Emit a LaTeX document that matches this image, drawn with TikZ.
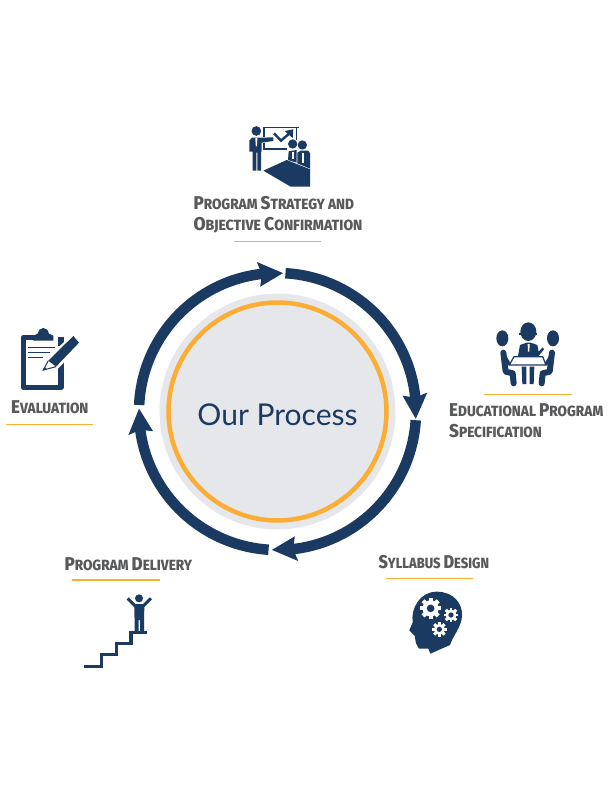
\documentclass[tikz,border=0pt]{standalone}
\usepackage{fontspec}
\newfontfamily\labfont[FakeStretch=0.92,BoldFont={Fira Sans ExtraBold}]{Fira Sans}
\newfontfamily\labwide[FakeStretch=0.95,BoldFont={Fira Sans ExtraBold}]{Fira Sans}
\newfontfamily\labtight[FakeStretch=0.875,BoldFont={Fira Sans ExtraBold}]{Fira Sans}
\newfontfamily\corefont{Lato}
\definecolor{navy}{HTML}{1B3A61}
\definecolor{coregray}{HTML}{E6E7EB}
\definecolor{gold}{HTML}{FBAE33}
\definecolor{labgray}{HTML}{58595B}
\newcommand{\capsm}[2]{{\fontsize{18.5}{18}\selectfont #1}{\fontsize{14.8}{18}\selectfont #2}}
\newcommand{\ringarrow}[2]{%
  \pgfmathsetmacro{\shaftend}{#2-8.5}
  \pgfmathsetmacro{\wingang}{#2-10.2}
  \pgfmathsetmacro{\notchang}{#2-8.8}
  \draw[navy,line width=10.5pt] ($(ringc)+(#1:138.5)$) arc[start angle=#1,end angle=\shaftend,radius=138.5];
  \fill[navy] ($(ringc)+(#2:138.5)$) -- ($(ringc)+(\wingang:151)$) -- ($(ringc)+(\notchang:138.5)$) -- ($(ringc)+(\wingang:126)$) -- cycle;
}
\newcommand{\gearicon}[3]{%
  \foreach \a in {0,45,...,315}{\fill[white,rotate around={\a:(#1,#2)}] (#1-#3*.2,#2) rectangle (#1+#3*.2,#2-#3);}
  \fill[white] (#1,#2) circle[radius=#3*.76];
  \fill[navy] (#1,#2) circle[radius=#3*.36];
}
\usetikzlibrary{calc}
\tikzset{
  lab/.style={anchor=base west,inner sep=0pt,text=labgray,font=\labfont\bfseries\fontsize{14.8}{18}\selectfont},
  labw/.style={lab,font=\labwide\bfseries\fontsize{14.8}{18}\selectfont},
  labt/.style={lab,font=\labtight\bfseries\fontsize{14.8}{18}\selectfont},
  rule/.style={gold,line width=1.1pt}
}
\begin{document}
\begin{tikzpicture}[x=1pt,y=1pt,yscale=-1]
\useasboundingbox (0,0) rectangle (612,792);
% core
\coordinate (ringc) at (277.5,411.5);
\fill[coregray] (ringc) circle[radius=118];
\draw[gold,line width=4.5pt] (ringc) circle[radius=109];
\node[anchor=base,inner sep=0pt,text=navy,font=\corefont\fontsize{30}{30}\selectfont] (core) at (277.5,425) {Our Process};
% ring
\ringarrow{-86.7}{3}
\ringarrow{3.6}{92.3}
\ringarrow{93.7}{181.2}
\ringarrow{182.7}{272.3}
% labels
\node[lab] (l1a) at (193.3,209.6) {\capsm{P}{ROGRAM} \capsm{S}{TRATEGY AND}};
\node[labw] (l1b) at (193.3,230.6) {\capsm{O}{BJECTIVE} \capsm{C}{ONFIRMATION}};
\draw[rule] (234,241.7) -- (321,241.7);
\node[lab] (l2a) at (449,416.3) {\capsm{E}{DUCATIONAL} \capsm{P}{ROGRAM}};
\node[lab] (l2b) at (449,437.3) {\capsm{S}{PECIFICATION}};
\draw[rule] (484,394.7) -- (571.7,394.7);
\node[labt] (l3) at (378.3,568.9) {\capsm{S}{YLLABUS} \capsm{D}{ESIGN}};
\draw[rule] (385.7,578.7) -- (473,578.7);
\node[lab] (l4) at (64.3,570.6) {\capsm{P}{ROGRAM} \capsm{D}{ELIVERY}};
\draw[rule] (72.3,580) -- (160,580);
\node[lab] (l5) at (11,413.9) {\capsm{E}{VALUATION}};
\draw[rule] (6,424.3) -- (93,424.3);
% icon 1 strategy
\begin{scope}[shift={(180,110)},scale=1/3]
  \fill[navy] (229,63) circle[radius=14.5];
  \fill[navy] (208,92) -- (216,83) -- (245,83) -- (280,82) -- (280,93) -- (245,98) -- (245,125) -- (243,125) -- (243,182) -- (232,182) -- (232,128) -- (229,128) -- (229,182) -- (218,182) -- (218,125) -- (208,125) -- cycle;
  \fill[white] (226,84) -- (232,84) -- (231,105) -- (229,110) -- (227,105) -- cycle;
  \draw[navy,line width=1.5pt] (248,52) -- (356,52);
  \draw[navy,line width=1.4pt] (252,52) -- (252,80) (252,98) -- (252,117) -- (320,117) (350,52) -- (350,90);
  \draw[navy,line width=2.4pt] (282,70) -- (303,92) -- (333,66);
  \fill[navy] (340,58) -- (338,84) -- (314,63) -- cycle;
  \fill[navy] (338,102) circle[radius=14];
  \fill[navy] (367,105) circle[radius=14];
  \fill[navy] (324,150) -- (326,124) -- (350,120) -- (350,158) -- cycle;
  \fill[navy] (352,160) -- (352,128) -- (362,122) -- (385,122) -- (390,130) -- (390,176) -- cycle;
  \fill[white] (337,126) -- (341,126) -- (341,146) -- (337,146) -- cycle;
  \fill[white] (366,128) -- (371,128) -- (371,158) -- (366,158) -- cycle;
  \fill[navy] (250,182) -- (320,150) -- (390,178) -- (390,230) -- (332,230) -- cycle;
\end{scope}
% icon 2 meeting
\begin{scope}[shift={(440,320)},scale=1/3]
  \fill[navy] (187,55) ellipse[x radius=18,y radius=24];
  \fill[navy] (339,55) ellipse[x radius=18,y radius=24];
  \fill[navy] (265,35) ellipse[x radius=24,y radius=28];
  \fill[navy] (238,46) rectangle (292,38);
  \fill[navy] (234,108) -- (240,75) -- (260,68) -- (272,68) -- (292,75) -- (296,95) -- (308,82) -- (312,88) -- (296,108) -- cycle;
  \fill[white] (263,72) -- (269,72) -- (268,95) -- (264,95) -- cycle;
  \draw[navy,line width=1.2pt] (222,110) -- (308,110) -- (318,135) -- (208,135) -- cycle;
  \fill[navy] (245,140) -- (259,140) -- (259,192) -- (247,192) -- cycle;
  \fill[navy] (269,140) -- (283,140) -- (281,192) -- (269,192) -- cycle;
  \draw[navy,line width=6pt,line join=round,line cap=round] (190,98) -- (197,155) -- (218,160) -- (221,190);
  \draw[navy,line width=6pt,line join=round,line cap=round] (336,98) -- (329,155) -- (308,160) -- (305,190);
  \draw[navy,line width=3pt,line cap=round] (192,105) -- (208,132);
  \draw[navy,line width=3pt,line cap=round] (334,105) -- (318,132);
\end{scope}
% icon 3 head with gears
\begin{scope}[shift={(370,545)},scale=1/3]
  \fill[navy] (128,232) .. controls (122,190) and (150,140) .. (200,140) .. controls (250,140) and (278,175) .. (276,212) .. controls (275,245) and (250,270) .. (240,300) -- (181,326) -- (175,311) -- (147,311) -- (138,295) -- (134,272) -- (118,256) -- cycle;
  \gearicon{182}{190}{32}
  \gearicon{243}{210}{22}
  \gearicon{208}{253}{22}
\end{scope}
% icon 4 stairs
\begin{scope}[shift={(55,545)},scale=1/3]
  \fill[navy] (252,160) circle[radius=12];
  \draw[navy,line width=3pt,line join=round] (218,160) -- (241,183);
  \draw[navy,line width=3pt,line join=round] (288,160) -- (265,183);
  \fill[navy] (238,177) -- (268,177) -- (267,258) -- (255,258) -- (255,225) -- (251,225) -- (251,258) -- (239,258) -- cycle;
  \draw[navy,line width=3.2pt] (88,365) -- (140,365) -- (140,328) -- (184,328) -- (184,295) -- (228,295) -- (228,263) -- (276,263);
\end{scope}
% icon 5 clipboard
\begin{scope}[shift={(0,320)},scale=1/3]
  \draw[navy,line width=5.5pt,line join=round,line cap=round] (100,53) -- (70,53) -- (70,202) -- (183,202) -- (183,130);
  \draw[navy,line width=5.5pt] (183,50) -- (183,78);
  \fill[navy] (113,41) arc[start angle=180,end angle=360,radius=17] -- (160,47) -- (160,62) -- (100,62) -- (100,47) -- cycle;
  \draw[navy,line width=1.5pt] (85,82) -- (165,82) (85,97) -- (150,97) (85,112) -- (130,112);
  \fill[white] (222,38) -- (250,68) -- (170,150) -- (122,160) -- (135,120) -- cycle;
  \fill[navy] (220,48) -- (237,68) -- (168,140) -- (145,122) -- cycle;
  \draw[navy,line width=1pt] (145,122) -- (130,150) -- (168,140);
  \fill[navy] (128,152) -- (133,140) -- (141,148) -- cycle;
\end{scope}
\end{tikzpicture}
\end{document}
